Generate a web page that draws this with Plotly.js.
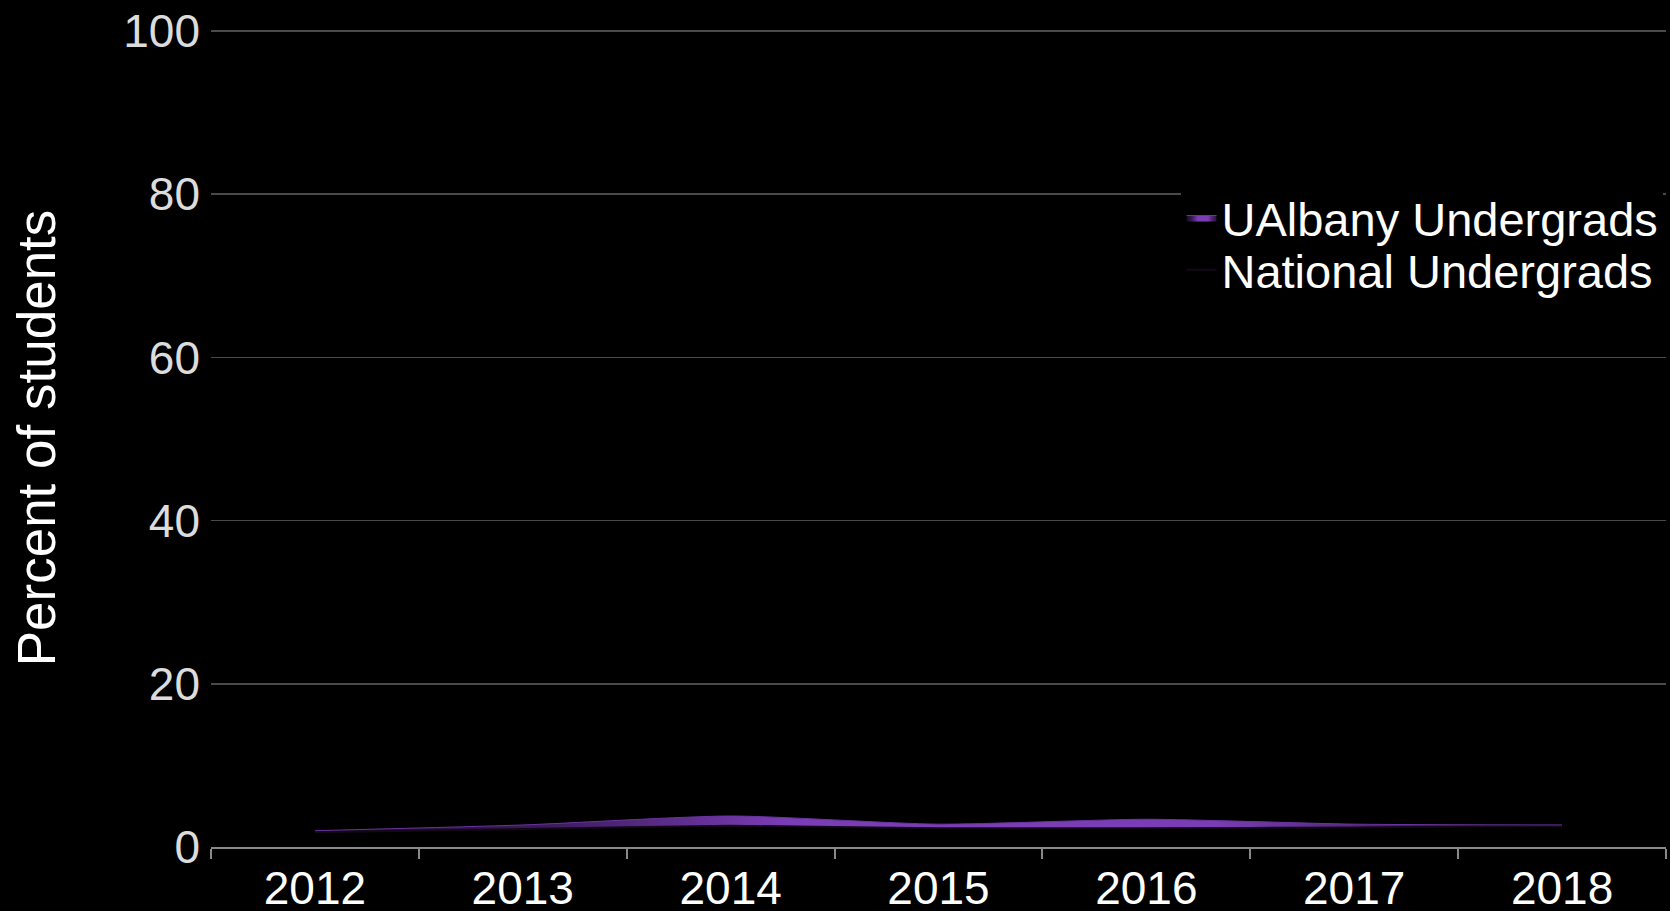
<!DOCTYPE html>
<html>
<head>
<meta charset="utf-8">
<script src="https://cdn.plot.ly/plotly-3.0.1.min.js"></script>
<style>
  html, body { margin: 0; padding: 0; background: #000; }
  #chart { width: 1670px; height: 911px; }
</style>
</head>
<body>
<div id="chart"></div>
<script>
const years = ['2012', '2013', '2014', '2015', '2016', '2017', '2018'];
const ualbany = [2.0, 2.7, 3.8, 2.8, 3.4, 2.8, 2.7];
const national = [1.8, 2.2, 2.6, 2.3, 2.3, 2.4, 2.6];
const yTicks = [0, 20, 40, 60, 80, 100];

const FONT = 'Liberation Sans, Arial, sans-serif';
const PURPLE = '#7b3db5';

const traces = [
  {
    x: years, y: national, name: 'National Undergrads', type: 'scatter', mode: 'lines',
    line: { color: '#120818', width: 2, shape: 'spline', smoothing: 0.6 },
    legend: 'legend2'
  },
  {
    x: years, y: ualbany, name: 'UAlbany Undergrads', type: 'scatter', mode: 'lines',
    line: { color: '#6a34a0', width: 1, shape: 'spline', smoothing: 0.6 },
    fill: 'tonexty',
    fillgradient: {
      type: 'horizontal',
      colorscale: [[0, '#160922'], [0.18, '#3a1a5a'], [0.38, PURPLE], [0.72, PURPLE], [0.86, '#4a2272'], [1, '#2a1240']]
    },
    fillcolor: PURPLE,
    legend: 'legend'
  }
];

const legendCommon = {
  x: 0.667, xanchor: 'left', yanchor: 'middle',
  borderwidth: 0,
  font: { family: FONT, size: 47, color: '#ffffff' },
  itemwidth: 30
};

const layout = {
  width: 1670, height: 911,
  paper_bgcolor: '#000', plot_bgcolor: '#000',
  margin: { l: 211, r: 4, t: 29, b: 64 },
  font: { family: FONT, color: '#ffffff', size: 46 },
  showlegend: true,
  legend: Object.assign({}, legendCommon, { y: 0.769, bgcolor: '#000' }),
  legend2: Object.assign({}, legendCommon, { y: 0.705, bgcolor: 'rgba(0,0,0,0)' }),
  xaxis: {
    type: 'category',
    range: [-0.5, 6.5],
    tickson: 'boundaries',
    ticks: 'outside', ticklen: 10, tickcolor: '#8a8a8a', tickwidth: 2,
    showline: true, linecolor: '#8a8a8a', linewidth: 2,
    showgrid: false, zeroline: false,
    tickfont: { family: FONT, size: 46, color: '#ffffff' },
    fixedrange: true
  },
  yaxis: {
    range: [0, 100.25],
    tickvals: yTicks, ticktext: yTicks.map(String),
    showgrid: true, gridcolor: '#4a4a4a', gridwidth: 1.5,
    zeroline: false, showline: false, ticks: '',
    ticklabelstandoff: 10,
    tickfont: { family: FONT, size: 46, color: '#dcdcdc' },
    title: { text: 'Percent of students', standoff: 50, font: { family: FONT, size: 53, color: '#ffffff' } },
    fixedrange: true
  }
};

Plotly.newPlot('chart', traces, layout, { displayModeBar: false, staticPlot: true });
</script>
</body>
</html>
